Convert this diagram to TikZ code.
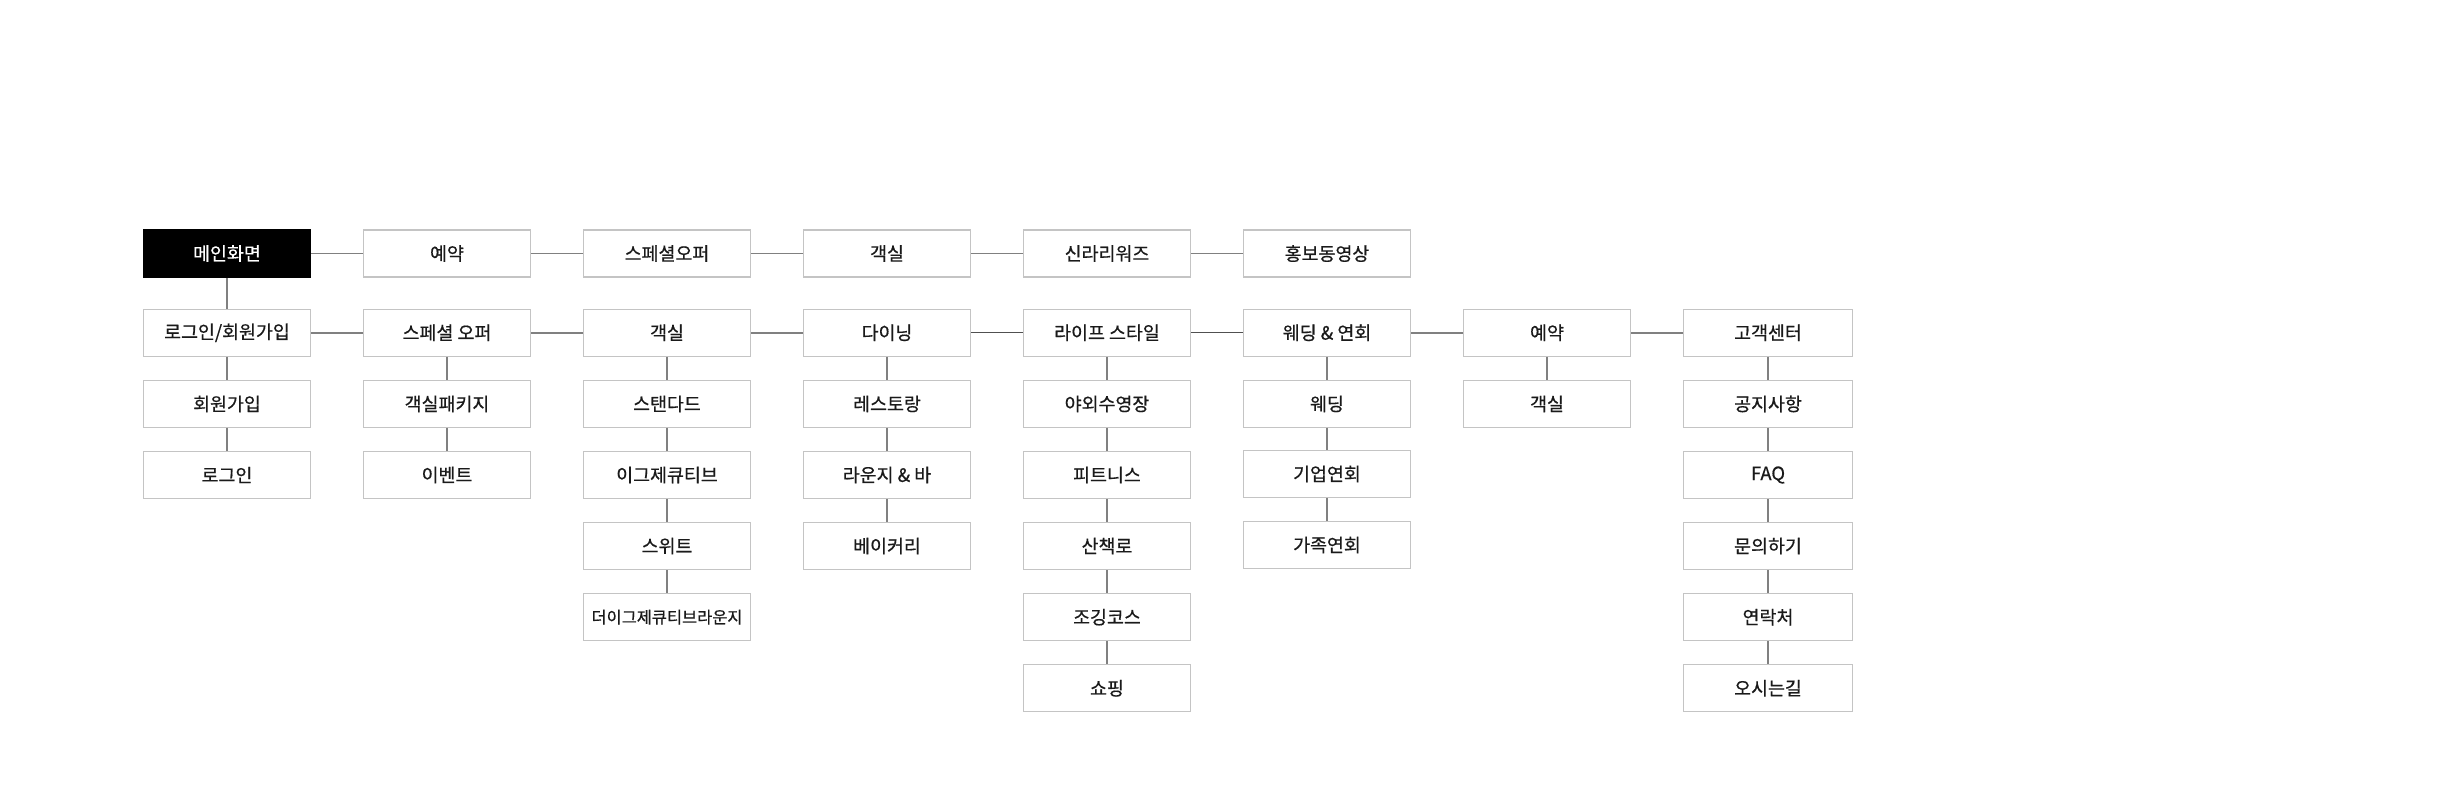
\documentclass[tikz,border=0pt]{standalone}
\usepackage{fontspec}
\setmainfont{Noto Sans CJK KR}[FakeBold=0.6]
\definecolor{boxline}{HTML}{C4C4C4}
\definecolor{linkline}{HTML}{808080}
\definecolor{linkdark}{HTML}{505050}
\definecolor{txt}{HTML}{1A1A1A}
\tikzset{
  menubox/.style={draw=boxline, line width=0.6pt, fill=white, minimum width=83.7pt, minimum height=23.5pt, inner sep=0pt, font=\fontsize{9.2pt}{11pt}\selectfont, text=txt},
  smalltext/.style={font=\fontsize{8.2pt}{10pt}\selectfont},
  mainbox/.style={menubox, draw=black, fill=black, text=white},
  link/.style={draw=linkline, line width=0.8pt},
  linkd/.style={draw=linkdark, line width=0.6pt}
}
\begin{document}
\begin{tikzpicture}[x=0.5pt, y=-0.5pt]
\useasboundingbox (0,0) rectangle (2438,806);
% column 0
\node[mainbox] (main) at (227,253.5) {메인화면};
\node[menubox] (login) at (227,332.8) {로그인/회원가입};
\node[menubox] (join) at (227,403.9) {회원가입};
\node[menubox] (loginb) at (227,475.0) {로그인};
% column 1
\node[menubox] (resv) at (447,253.5) {예약};
\node[menubox] (spo) at (447,332.8) {스페셜 오퍼};
\node[menubox] (pkg) at (447,403.9) {객실패키지};
\node[menubox] (evt) at (447,475.0) {이벤트};
% column 2
\node[menubox] (spotop) at (667,253.5) {스페셜오퍼};
\node[menubox] (room) at (667,332.8) {객실};
\node[menubox] (std) at (667,403.9) {스탠다드};
\node[menubox] (exe) at (667,475.0) {이그제큐티브};
\node[menubox] (suite) at (667,546.1) {스위트};
\node[menubox, smalltext] (lounge) at (667,617.2) {더이그제큐티브라운지};
% column 3
\node[menubox] (roomtop) at (887,253.5) {객실};
\node[menubox] (dine) at (887,332.8) {다이닝};
\node[menubox] (rest) at (887,403.9) {레스토랑};
\node[menubox] (bar) at (887,475.0) {라운지 \& 바};
\node[menubox] (bake) at (887,546.1) {베이커리};
% column 4
\node[menubox] (rew) at (1107,253.5) {신라리워즈};
\node[menubox] (life) at (1107,332.8) {라이프 스타일};
\node[menubox] (pool) at (1107,403.9) {야외수영장};
\node[menubox] (fit) at (1107,475.0) {피트니스};
\node[menubox] (walk) at (1107,546.1) {산책로};
\node[menubox] (jog) at (1107,617.2) {조깅코스};
\node[menubox] (shop) at (1107,688.3) {쇼핑};
% column 5
\node[menubox] (video) at (1327,253.5) {홍보동영상};
\node[menubox] (wedp) at (1327,332.8) {웨딩 \& 연회};
\node[menubox] (wed) at (1327,403.9) {웨딩};
\node[menubox] (corp) at (1327,474.0) {기업연회};
\node[menubox] (fam) at (1327,545.1) {가족연회};
% column 6
\node[menubox] (resv2) at (1547,332.8) {예약};
\node[menubox] (room2) at (1547,403.9) {객실};
% column 7
\node[menubox, minimum width=84.8pt] (cs) at (1768,332.8) {고객센터};
\node[menubox, minimum width=84.8pt] (notice) at (1768,403.9) {공지사항};
\node[menubox, minimum width=84.8pt] (faq) at (1768,475.0) {FAQ};
\node[menubox, minimum width=84.8pt] (ask) at (1768,546.1) {문의하기};
\node[menubox, minimum width=84.8pt] (contact) at (1768,617.2) {연락처};
\node[menubox, minimum width=84.8pt] (map) at (1768,688.3) {오시는길};
% top row links
\draw[link] (main) -- (resv);
\draw[link] (resv) -- (spotop);
\draw[link] (spotop) -- (roomtop);
\draw[link] (roomtop) -- (rew);
\draw[link] (rew) -- (video);
% second row links
\draw[link] (main) -- (login);
\draw[link] (login) -- (spo);
\draw[link] (spo) -- (room);
\draw[link] (room) -- (dine);
\draw[linkd] (dine) -- (life);
\draw[linkd] (life) -- (wedp);
\draw[link] (wedp) -- (resv2);
\draw[link] (resv2) -- (cs);
% vertical chains
\draw[link] (login) -- (join);
\draw[link] (join) -- (loginb);
\draw[link] (spo) -- (pkg);
\draw[link] (pkg) -- (evt);
\draw[link] (room) -- (std);
\draw[link] (std) -- (exe);
\draw[link] (exe) -- (suite);
\draw[link] (suite) -- (lounge);
\draw[link] (dine) -- (rest);
\draw[link] (rest) -- (bar);
\draw[link] (bar) -- (bake);
\draw[link] (life) -- (pool);
\draw[link] (pool) -- (fit);
\draw[link] (fit) -- (walk);
\draw[link] (walk) -- (jog);
\draw[link] (jog) -- (shop);
\draw[link] (wedp) -- (wed);
\draw[link] (wed) -- (corp);
\draw[link] (corp) -- (fam);
\draw[link] (resv2) -- (room2);
\draw[link] (cs) -- (notice);
\draw[link] (notice) -- (faq);
\draw[link] (faq) -- (ask);
\draw[link] (ask) -- (contact);
\draw[link] (contact) -- (map);
\end{tikzpicture}
\end{document}
